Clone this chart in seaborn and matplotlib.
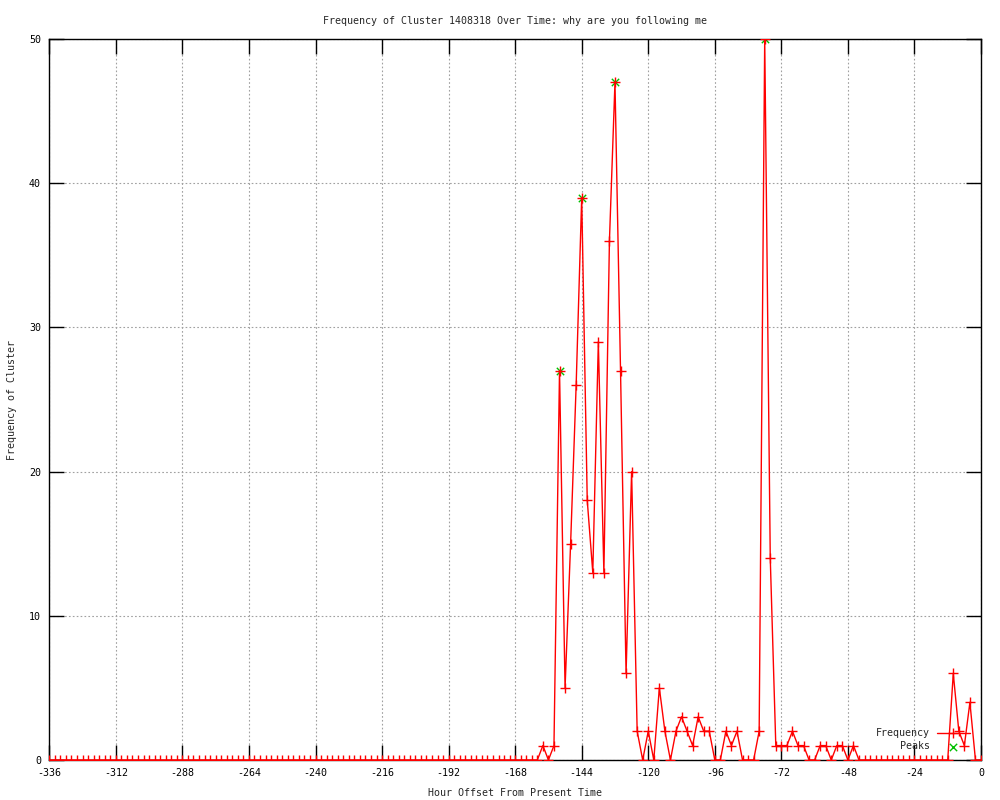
import pandas as pd
import seaborn as sns
import matplotlib.pyplot as plt

# hour offsets, one sample every 2 hours
hours = list(range(-336, 1, 2))

# -336 .. -166 (all zero)
freq_early = [
    0, 0, 0, 0, 0, 0, 0, 0, 0, 0, 0, 0, 0, 0, 0, 0, 0, 0, 0, 0,
    0, 0, 0, 0, 0, 0, 0, 0, 0, 0, 0, 0, 0, 0, 0, 0, 0, 0, 0, 0,
    0, 0, 0, 0, 0, 0, 0, 0, 0, 0, 0, 0, 0, 0, 0, 0, 0, 0, 0, 0,
    0, 0, 0, 0, 0, 0, 0, 0, 0, 0, 0, 0, 0, 0, 0, 0, 0, 0, 0, 0,
    0, 0, 0, 0, 0, 0,
]
# -164 .. 0
freq_late = [
    0, 0, 0, 1, 0, 1, 27, 5, 15, 26,
    39, 18, 13, 29, 13, 36, 47, 27, 6, 20,
    2, 0, 2, 0, 5, 2, 0, 2, 3, 2,
    1, 3, 2, 2, 0, 0, 2, 1, 2, 0,
    0, 0, 2, 50, 14, 1, 1, 1, 2, 1,
    1, 0, 0, 1, 1, 0, 1, 1, 0, 1,
    0, 0, 0, 0, 0, 0, 0, 0, 0, 0,
    0, 0, 0, 0, 0, 0, 0, 6, 2, 1,
    4, 0, 0,
]
frequency = freq_early + freq_late

peak_hours = [-152, -144, -132, -78]
peak_values = [27, 39, 47, 50]

df = pd.DataFrame({"hour": hours, "freq": frequency})
peaks = pd.DataFrame({"hour": peak_hours, "freq": peak_values})

sns.set_style("white")
plt.rcParams["font.family"] = ["DejaVu Sans Mono"]
plt.rcParams["axes.unicode_minus"] = False
fs = 7.2

fig = plt.figure(figsize=(10, 8), dpi=100)
ax = fig.add_axes([0.0493, 0.05, 0.9317, 0.90125])

sns.lineplot(x="hour", y="freq", data=df, ax=ax, color="#ff0000",
             linewidth=1, marker="+", markersize=6.5, markeredgewidth=1,
             markeredgecolor="#ff0000", label="Frequency", zorder=3)
sns.scatterplot(x="hour", y="freq", data=peaks, ax=ax, color="#00c000",
                marker="x", s=28, linewidth=1, label="Peaks", zorder=2)

ax.set_xlim(-336, 0)
ax.set_ylim(0, 50)
ax.set_xticks(range(-336, 1, 24))
ax.set_yticks(range(0, 51, 10))
ax.grid(True, color="#a0a0a0", linestyle=(0, (1.5, 2)), linewidth=0.8)
for s in ax.spines.values():
    s.set_color("black")
    s.set_linewidth(1)
ax.tick_params(direction="in", length=11, width=1, bottom=True, left=True,
               top=True, right=True, labelsize=fs, pad=6, colors="black")

ax.set_title("Frequency of Cluster 1408318 Over Time: why are you following me",
             fontsize=fs, pad=11)
ax.set_xlabel("Hour Offset From Present Time", fontsize=fs)
ax.set_ylabel("Frequency of Cluster", fontsize=fs)
ax.xaxis.set_label_coords(0.5, -0.039)
ax.yaxis.set_label_coords(-0.035, 0.5)

ax.legend(loc="lower right", bbox_to_anchor=(0.988, 0.012), frameon=False,
          markerfirst=False, fontsize=fs, handlelength=3.3,
          handletextpad=0.7, labelspacing=0.3, borderpad=0, borderaxespad=0)

plt.savefig("out.png")
